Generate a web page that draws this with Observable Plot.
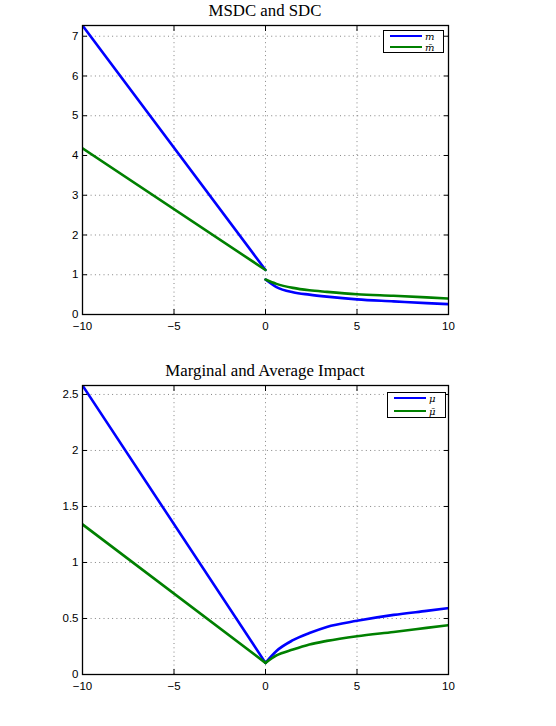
<!DOCTYPE html>
<html>
<head>
<meta charset="utf-8">
<script src="https://cdn.jsdelivr.net/npm/d3@7"></script>
<script src="https://cdn.jsdelivr.net/npm/@observablehq/plot@0.6"></script>
<style>
  html, body { margin: 0; padding: 0; background: #fff; }
  #root { position: relative; width: 556px; height: 726px; overflow: hidden; }
  .panel { position: absolute; left: 0; }
  .title { position: absolute; left: 82px; width: 366px; text-align: center;
           font-family: "Liberation Serif", "DejaVu Serif", serif; font-size: 16.8px; color: #000; }
  .legend { position: absolute; background: #fff; border: 1.2px solid #000; box-sizing: border-box; }
  .legend .row { position: absolute; left: 6px; height: 10px; display: flex; align-items: center; }
  .legend .sw { width: 32px; height: 2.2px; }
  .legend .lab { display: inline-block; height: 9px; line-height: 9px; overflow: visible; margin-left: 3px;
                 font-family: "DejaVu Serif", "Liberation Serif", serif;
                 font-style: italic; font-size: 10px; }
</style>
</head>
<body>
<div id="root"></div>
<script>
// ---------- data ----------
const xTicks = [-10, -5, 0, 5, 10];

// Top panel: MSDC (m) and SDC (m-bar)
const topTitle = "MSDC and SDC";
const topYTicks = [0, 1, 2, 3, 4, 5, 6, 7];
const topYMax = 7.27;
const xLeft = [-10, 0];
const mLeft = [7.27, 1.12];
const mbarLeft = [4.18, 1.12];
const xRight = [0, 0.6, 1.5, 2.4, 3.35, 5, 7, 8.8, 10];
const mRight = [0.88, 0.69, 0.56, 0.50, 0.45, 0.38, 0.33, 0.285, 0.26];
const mbarRight = [0.88, 0.77, 0.67, 0.61, 0.57, 0.51, 0.47, 0.43, 0.40];

// Bottom panel: Marginal (mu) and Average (mu-bar) impact
const botTitle = "Marginal and Average Impact";
const botYTicks = [0, 0.5, 1, 1.5, 2, 2.5];
const botYMax = 2.58;
const muLeft = [2.58, 0.104];
const mubarLeft = [1.34, 0.104];
const muRight = [0.104, 0.21, 0.306, 0.37, 0.425, 0.479, 0.532, 0.568, 0.592];
const mubarRight = [0.104, 0.17, 0.223, 0.268, 0.30, 0.342, 0.38, 0.416, 0.44];

const blue = "#0000ff";
const green = "#008000";

// ---------- helpers ----------
const pts = (xs, ys) => xs.map((x, i) => ({x, y: ys[i]}));
const fmtX = d => (d < 0 ? "\u2212" : "") + Math.abs(d);
const fmtY = d => String(d);

function panel(yMax, yTicks, series) {
  const grid = {stroke: "#555", strokeOpacity: 0.9, strokeWidth: 0.8, strokeDasharray: "1,3.3"};
  return Plot.plot({
    width: 556,
    height: 345,
    marginLeft: 82,
    marginRight: 108,
    marginTop: 25,
    marginBottom: 31,
    style: {fontFamily: "'Liberation Sans', Arial, sans-serif", fontSize: "11.5px", color: "#000", background: "transparent"},
    x: {domain: [-10, 10], label: null},
    y: {domain: [0, yMax], label: null},
    marks: [
      Plot.gridX(xTicks.slice(1, -1), grid),
      Plot.gridY(yTicks.slice(1), grid),
      ...series.map(s => Plot.line(s.data, {x: "x", y: "y", stroke: s.color, strokeWidth: 2.6, curve: "monotone-x", clip: true})),
      Plot.axisX(xTicks, {anchor: "bottom", tickSize: -5, tickPadding: 12.5, tickFormat: fmtX, label: null}),
      Plot.axisX(xTicks, {anchor: "top", tickSize: -5, tickFormat: () => "", label: null}),
      Plot.axisY(yTicks, {anchor: "left", tickSize: -5, tickPadding: 9, tickFormat: fmtY, label: null}),
      Plot.axisY(yTicks, {anchor: "right", tickSize: -5, tickFormat: () => "", label: null}),
      Plot.frame({stroke: "#000", strokeWidth: 1.3})
    ]
  });
}

function legend(parent, left, top, w, h, items) {
  const box = document.createElement("div");
  box.className = "legend";
  Object.assign(box.style, {left: left + "px", top: top + "px", width: w + "px", height: h + "px"});
  items.forEach((it) => {
    const row = document.createElement("div");
    row.className = "row";
    row.style.top = (it.dy) + "px";
    const sw = document.createElement("div");
    sw.className = "sw";
    sw.style.background = it.color;
    const lab = document.createElement("span");
    lab.className = "lab";
    lab.textContent = it.label;
    row.appendChild(sw);
    row.appendChild(lab);
    box.appendChild(row);
  });
  parent.appendChild(box);
}

function addTitle(parent, text, top) {
  const t = document.createElement("div");
  t.className = "title";
  t.style.top = top + "px";
  t.textContent = text;
  parent.appendChild(t);
}

// ---------- build ----------
const root = document.getElementById("root");

const p1 = panel(topYMax, topYTicks, [
  {data: pts(xLeft, mLeft), color: blue},
  {data: pts(xRight, mRight), color: blue},
  {data: pts(xLeft, mbarLeft), color: green},
  {data: pts(xRight, mbarRight), color: green}
]);
p1.classList.add("panel");
p1.style.top = "0px";
root.appendChild(p1);
addTitle(root, topTitle, 1);
legend(root, 383, 30, 61, 23, [
  {label: "m", color: blue, dy: 0},
  {label: "m\u0304", color: green, dy: 11}
]);

const p2 = panel(botYMax, botYTicks, [
  {data: pts(xLeft, muLeft), color: blue},
  {data: pts(xRight, muRight), color: blue},
  {data: pts(xLeft, mubarLeft), color: green},
  {data: pts(xRight, mubarRight), color: green}
]);
p2.classList.add("panel");
p2.style.top = "360px";
root.appendChild(p2);
addTitle(root, botTitle, 361);
legend(root, 387, 392, 59, 26, [
  {label: "\u03bc", color: blue, dy: 0},
  {label: "\u03bc\u0304", color: green, dy: 13}
]);
</script>
</body>
</html>
